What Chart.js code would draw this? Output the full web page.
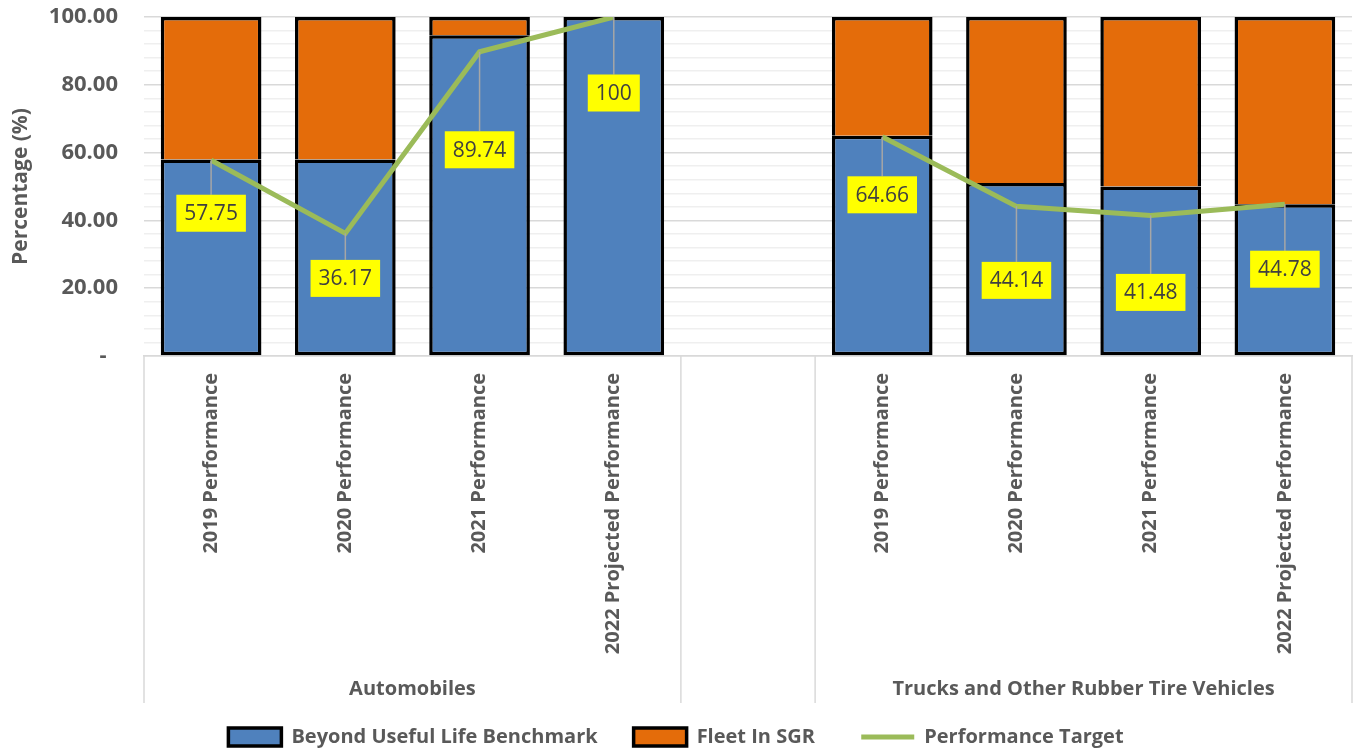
<!DOCTYPE html>
<html><head><meta charset="utf-8">
<script src="https://cdn.jsdelivr.net/npm/chart.js@4.4.1/dist/chart.umd.min.js"></script>
<style>html,body{margin:0;padding:0;background:#fff;} #wrap{width:1354px;height:751px;}</style>
</head><body><div id="wrap"><canvas id="c" width="1354" height="751"></canvas></div>
<script>
const categories = ['2019 Performance','2020 Performance','2021 Performance','2022 Projected Performance','',
  '2019 Performance','2020 Performance','2021 Performance','2022 Projected Performance'];
const groupNames = ['Automobiles','Trucks and Other Rubber Tire Vehicles'];
const groupFirst = [0, 5];
const groupLast = [3, 8];
const beyondULB = [58, 58, 94.6, 100, null, 65, 51, 50, 44.8];
const fleetInSGR = [42, 42, 5.4, 0, null, 35, 49, 50, 55.2];
const performanceTarget = [57.75, 36.17, 89.74, 100, null, 64.66, 44.14, 41.48, 44.78];
const seriesNames = ['Beyond Useful Life Benchmark','Fleet In SGR','Performance Target'];

const GRAY = '#595959';
const SANS = '"Open Sans", sans-serif';
const labelOffsets = [53, 45, 98, 76, null, 58, 74, 77, 65];

const targetLabels = {
  id: 'targetLabels',
  afterDatasetsDraw(chart) {
    const meta = chart.getDatasetMeta(2);
    const ctx = chart.ctx;
    ctx.save();
    ctx.font = '21px ' + SANS;
    meta.data.forEach((pt, i) => {
      const v = performanceTarget[i];
      if (v == null) return;
      const txt = String(v);
      const w = ctx.measureText(txt).width + 16, h = 37;
      const cx = pt.x, cy = pt.y + labelOffsets[i];
      ctx.strokeStyle = '#A6A6A6'; ctx.lineWidth = 1.5;
      ctx.beginPath(); ctx.moveTo(pt.x, pt.y); ctx.lineTo(pt.x, cy - h / 2); ctx.stroke();
      ctx.fillStyle = '#FFFF00';
      ctx.fillRect(cx - w / 2, cy - h / 2, w, h);
      ctx.fillStyle = '#404040'; ctx.textAlign = 'center'; ctx.textBaseline = 'middle';
      ctx.fillText(txt, cx, cy + 1);
    });
    ctx.restore();
  }
};

const groupAxis = {
  id: 'groupAxis',
  afterDraw(chart) {
    const x = chart.scales.x, ctx = chart.ctx;
    const half = (x.getPixelForValue(1) - x.getPixelForValue(0)) / 2;
    const top = chart.chartArea.bottom, bottom = top + 347;
    const bounds = [];
    groupFirst.forEach((f, g) => {
      bounds.push(x.getPixelForValue(f) - half, x.getPixelForValue(groupLast[g]) + half);
    });
    ctx.save();
    ctx.strokeStyle = '#D9D9D9'; ctx.lineWidth = 1.5;
    bounds.forEach(b => { ctx.beginPath(); ctx.moveTo(b, top); ctx.lineTo(b, bottom); ctx.stroke(); });
    ctx.font = 'bold 20px ' + SANS;
    ctx.fillStyle = GRAY; ctx.textAlign = 'center'; ctx.textBaseline = 'middle';
    groupNames.forEach((n, g) => {
      const cx = (x.getPixelForValue(groupFirst[g]) + x.getPixelForValue(groupLast[g])) / 2;
      ctx.fillText(n, cx, top + 333);
    });
    ctx.restore();
  }
};

new Chart(document.getElementById('c'), {
  data: {
    labels: categories,
    datasets: [
      { type: 'bar', label: seriesNames[0], data: beyondULB, backgroundColor: '#4F81BD',
        borderColor: '#000', borderWidth: 3.5, borderSkipped: false, stack: 's', order: 0 },
      { type: 'bar', label: seriesNames[1], data: fleetInSGR, backgroundColor: '#E46C0A',
        borderColor: '#000', borderWidth: {top: 3.5, left: 3.5, right: 3.5, bottom: 0}, borderSkipped: false, stack: 's', order: 0 },
      { type: 'line', label: seriesNames[2], data: performanceTarget, borderColor: '#9BBB59',
        backgroundColor: '#9BBB59', borderWidth: 5, pointRadius: 0, spanGaps: false, tension: 0, order: -1 }
    ]
  },
  options: {
    responsive: false, animation: false,
    layout: { padding: { top: 17, right: 2, bottom: -6, left: 0 } },
    datasets: { bar: { categoryPercentage: 1, barPercentage: 0.75 } },
    plugins: {
      tooltip: { enabled: false },
      legend: {
        position: 'bottom',
        labels: {
          usePointStyle: true, pointStyleWidth: 53, boxHeight: 18, padding: 10,
          color: GRAY, font: { family: SANS, size: 20, weight: 'bold' },
          sort: (a, b) => a.datasetIndex - b.datasetIndex,
          generateLabels(chart) {
            const items = Chart.defaults.plugins.legend.labels.generateLabels(chart);
            items.forEach(it => {
              const ds = chart.data.datasets[it.datasetIndex];
              if (ds.type === 'line') { it.pointStyle = 'line'; it.lineWidth = 5; it.strokeStyle = ds.borderColor; }
              else { it.pointStyle = 'rect'; it.lineWidth = 3.5; it.strokeStyle = '#000'; }
              if (it.datasetIndex === 0) it.text = it.text + '     ';
              if (it.datasetIndex === 1) it.text = it.text + '       ';
            });
            return items;
          }
        }
      }
    },
    scales: {
      x: {
        stacked: true,
        grid: { display: false, drawTicks: false },
        border: { color: '#D9D9D9', width: 1.5 },
        ticks: { autoSkip: false, maxRotation: 90, minRotation: 90, padding: 17, color: GRAY,
          font: { family: SANS, size: 20, weight: 'bold' } },
        afterFit(s) { s.height = 361; }
      },
      y: {
        stacked: true, min: 0, max: 100,
        border: { display: false },
        grid: { drawTicks: true, tickLength: 26, tickColor: 'rgba(0,0,0,0)',
          color: c => (c.tick && c.tick.value % 20 === 0) ? '#D9D9D9' : '#EFEFEF', lineWidth: 1.5 },
        ticks: { stepSize: 4, autoSkip: false, padding: 0, color: GRAY,
          font: { family: SANS, size: 22, weight: 'bold' },
          callback: v => v % 20 === 0 ? (v === 0 ? '-  ' : v.toFixed(2)) : '' },
        title: { display: true, text: 'Percentage (%)', color: GRAY, padding: { top: 8, bottom: 0 },
          font: { family: SANS, size: 21, weight: 'bold' } },
        afterFit(s) { s.width = 144; }
      }
    }
  },
  plugins: [targetLabels, groupAxis]
});
</script></body></html>
